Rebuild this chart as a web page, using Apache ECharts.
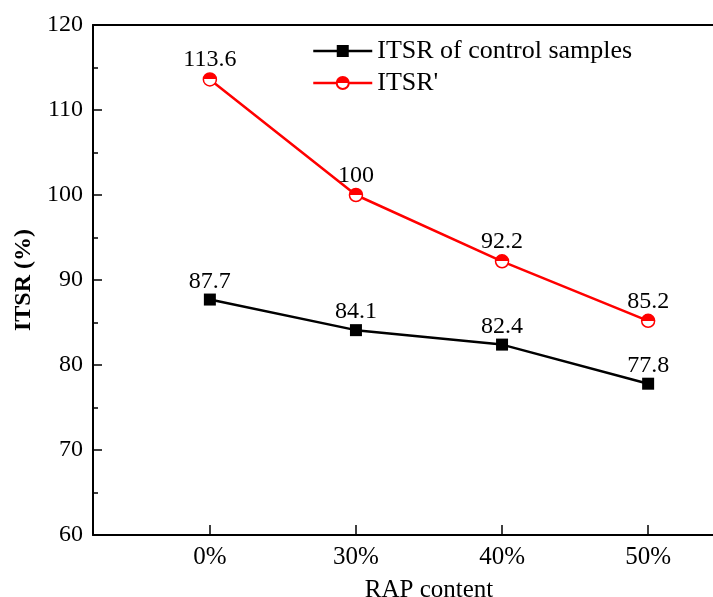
<!DOCTYPE html>
<html>
<head>
<meta charset="utf-8">
<script src="https://cdn.jsdelivr.net/npm/echarts@6/dist/echarts.min.js"></script>
<style>html,body{margin:0;padding:0;background:#fff;}#c{width:713px;height:597px;}</style>
</head>
<body>
<div id="c"></div>
<script>
const categories = ['0%', '30%', '40%', '50%'];
const controlName = 'ITSR of control samples';
const primeName = "ITSR'";
const controlValues = [87.7, 84.1, 82.4, 77.8];
const primeValues = [113.6, 100, 92.2, 85.2];
const yMin = 60, yMax = 120, yStep = 10;

const FONT = 'Liberation Serif';
const idx = categories.map((c, i) => i);
const chart = echarts.init(document.getElementById('c'), null, {renderer: 'canvas'});
const halfFill = {type: 'linear', x: 0, y: 0, x2: 0, y2: 1,
  colorStops: [{offset: 0, color: '#ff0000'}, {offset: 0.5, color: '#ff0000'}, {offset: 0.5, color: '#ffffff'}, {offset: 1, color: '#ffffff'}]};
chart.setOption({
  animation: false,
  backgroundColor: '#ffffff',
  grid: {left: 93, top: 25, width: 672, height: 510, containLabel: false, outerBoundsMode: 'none'},
  legend: {
    orient: 'vertical', left: 307, top: 33, itemWidth: 59, itemHeight: 15, itemGap: 6,
    data: [controlName, primeName],
    lineStyle: {width: 2.5},
    textStyle: {fontFamily: FONT, fontSize: 26, color: '#000', lineHeight: 26}
  },
  xAxis: [{
    type: 'value', min: -0.8, max: 3.8, position: 'bottom',
    name: 'RAP content', nameLocation: 'middle', nameGap: 43,
    nameTextStyle: {fontFamily: FONT, fontSize: 25, color: '#000'},
    axisLine: {show: true, lineStyle: {color: '#000', width: 2}},
    axisTick: {show: true, inside: true, length: 10, customValues: idx, lineStyle: {color: '#000', width: 1.5}},
    axisLabel: {customValues: idx, margin: 10, fontFamily: FONT, fontSize: 25, color: '#000',
      formatter: v => categories[Math.round(v)]},
    splitLine: {show: false}
  }, {
    type: 'value', min: -0.8, max: 3.8, position: 'top',
    axisLine: {show: true, onZero: false, lineStyle: {color: '#000', width: 2}},
    axisTick: {show: false}, axisLabel: {show: false}, splitLine: {show: false}
  }],
  yAxis: {
    type: 'value', min: yMin, max: yMax, interval: yStep,
    name: 'ITSR (%)', nameLocation: 'middle', nameGap: 54,
    nameTextStyle: {fontFamily: FONT, fontSize: 24, fontWeight: 'bold', color: '#000'},
    axisLine: {show: true, onZero: false, lineStyle: {color: '#000', width: 2}},
    axisTick: {show: true, inside: true, length: 9, lineStyle: {color: '#000', width: 1.5}},
    minorTick: {show: true, splitNumber: 2, length: 5, lineStyle: {color: '#000', width: 1.5}},
    axisLabel: {margin: 10, fontFamily: FONT, fontSize: 24, color: '#000'},
    splitLine: {show: false}
  },
  series: [{
    name: controlName, type: 'line', xAxisIndex: 0,
    data: idx.map(i => [i, controlValues[i]]),
    symbol: 'rect', symbolSize: 12,
    itemStyle: {color: '#000'},
    lineStyle: {color: '#000', width: 2.5},
    label: {show: true, position: 'top', distance: 0, fontFamily: FONT, fontSize: 24, color: '#000'}
  }, {
    name: primeName, type: 'line', xAxisIndex: 0,
    data: idx.map(i => [i, primeValues[i]]),
    symbol: 'circle', symbolSize: 13,
    itemStyle: {color: halfFill, borderColor: '#ff0000', borderWidth: 1.5},
    lineStyle: {color: '#ff0000', width: 2.5},
    label: {show: true, position: 'top', distance: 0, fontFamily: FONT, fontSize: 24, color: '#000'}
  }]
});
</script>
</body>
</html>
